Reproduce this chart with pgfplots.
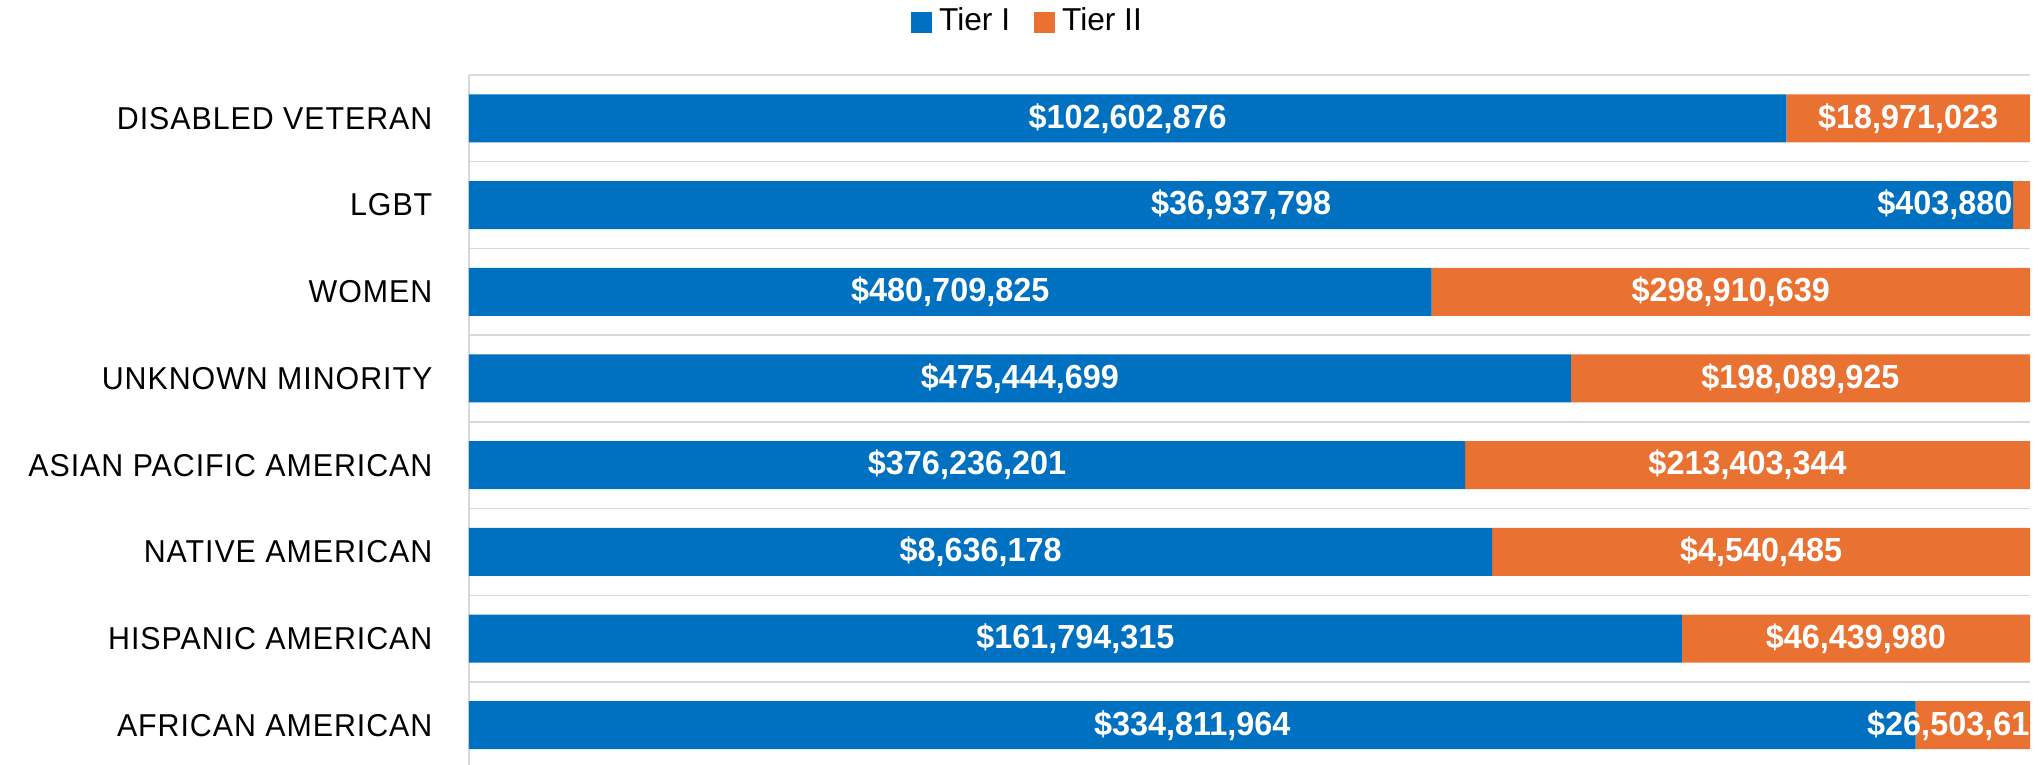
\documentclass[border=0pt]{standalone}
\usepackage{fontspec}
\setmainfont{Liberation Sans}
\newfontfamily\valfont[FakeStretch=0.97]{Liberation Sans}
\newfontfamily\catfont[LetterSpace=3, FakeStretch=0.96]{Liberation Sans}
\usepackage{pgfplots}
\usepackage{pgfplotstable}
\pgfplotsset{compat=1.18}

\definecolor{tierone}{RGB}{0,112,192}
\definecolor{tiertwo}{RGB}{233,113,50}
\definecolor{gridgray}{RGB}{217,217,217}

% spend by group, Tier I and Tier II (last digit of AA Tier II is cut off in the source)
\pgfplotstableread{
idx t1        t2        lab1           lab2
0   334811964 26503610  \$334,811,964  {}
1   161794315 46439980  \$161,794,315  \$46,439,980
2   8636178   4540485   \$8,636,178    \$4,540,485
3   376236201 213403344 \$376,236,201  \$213,403,344
4   475444699 198089925 \$475,444,699  \$198,089,925
5   480709825 298910639 \$480,709,825  \$298,910,639
6   36937798  403880    \$36,937,798   {}
7   102602876 18971023  \$102,602,876  \$18,971,023
}\spend

\begin{document}
\begin{tikzpicture}
\useasboundingbox (0,0) rectangle (20.43cm,7.65cm);

\begin{axis}[
at={(4.69cm,-0.036cm)}, anchor=south west,
scale only axis, width=15.61cm, height=6.936cm,
xbar stacked, bar width=0.48cm,
xmin=0, xmax=100, ymin=-0.5, ymax=7.5,
axis x line=none, axis y line=left,
y axis line style={-, draw=gridgray, line width=0.4pt},
ytick={0,...,7},
yticklabels={AFRICAN AMERICAN, HISPANIC AMERICAN, NATIVE AMERICAN, ASIAN PACIFIC AMERICAN, UNKNOWN MINORITY, WOMEN, LGBT, DISABLED VETERAN},
yticklabel style={font=\fontsize{9}{10}\selectfont\catfont, inner sep=0pt, xshift=-0.36cm},
major tick length=0pt, minor tick length=0pt,
minor ytick={-0.5,0.5,...,7.5},
yminorgrids, minor grid style={draw=gridgray, line width=0.4pt},
legend style={at={(0.3594,1.0764)}, anchor=center, draw=none, fill=none,
  legend columns=2, font=\fontsize{9}{10}\selectfont,
  /tikz/every even column/.append style={column sep=0.17cm}},
legend image code/.code={\fill[#1] (0cm,-0.105cm) rectangle (0.21cm,0.105cm);},
]
\addplot[fill=tierone, draw=none] table[x expr=\thisrow{t1}/(\thisrow{t1}+\thisrow{t2})*100, y=idx]{\spend};
\addplot[fill=tiertwo, draw=none] table[x expr=\thisrow{t2}/(\thisrow{t1}+\thisrow{t2})*100, y=idx]{\spend};
\legend{Tier I, Tier II}
\end{axis}

% value labels, centred in each segment
\begin{axis}[
at={(4.69cm,-0.036cm)}, anchor=south west,
scale only axis, width=15.61cm, height=6.936cm,
xmin=0, xmax=100, ymin=-0.5, ymax=7.5,
hide axis, clip=false,
nodes near coords, point meta=explicit symbolic,
every node near coord/.append style={anchor=center, text=white, inner sep=0pt,
  font=\fontsize{9.5}{11}\selectfont\valfont\bfseries},
]
\addplot[draw=none, mark=none] table[x expr=\thisrow{t1}/(\thisrow{t1}+\thisrow{t2})*50, y=idx, meta=lab1]{\spend};
\addplot[draw=none, mark=none] table[x expr=(\thisrow{t1}+0.5*\thisrow{t2})/(\thisrow{t1}+\thisrow{t2})*100, y=idx, meta=lab2]{\spend};
\addplot[draw=none, mark=none, every node near coord/.append style={anchor=east}]
  coordinates {(98.918,6) [\$403,880] (100,0) [\$26,503,61]};
\end{axis}
\end{tikzpicture}
\end{document}
